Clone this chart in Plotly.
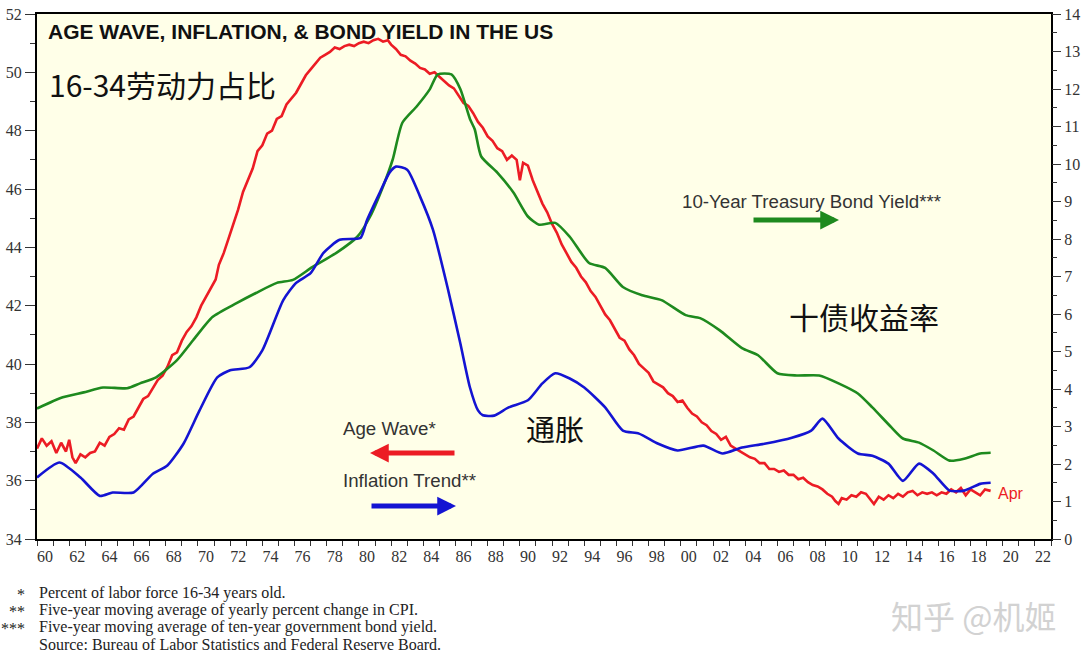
import plotly.graph_objects as go

# ---------------- data ----------------
age_years = [1960.0,1960.3,1960.6,1960.9,1961.2,1961.5,1961.8,1962.0,1962.2,1962.4,1962.7,1963.0,1963.3,1963.6,1963.9,
             1964.2,1964.5,1964.8,1965.1,1965.4,1965.7,1966.0,1966.3,1966.6,1966.9,1967.2,1967.5,1967.8,1968.1,1968.4,
             1968.7,1969.0,1969.3,1969.6,1969.9,1970.2,1970.5,1970.8,1971.1,1971.3,1971.6,1971.9,1972.2,1972.5,1972.8,
             1973.1,1973.4,1973.7,1974.0,1974.3,1974.6,1974.9,1975.2,1975.5,1975.8,1976.1,1976.4,1976.7,1977.0,1977.3,
             1977.6,1977.9,1978.2,1978.5,1978.8,1979.1,1979.4,1979.7,1980.0,1980.3,1980.6,1980.9,1981.2,1981.5,1981.8,
             1982.0,1982.3,1982.6,1982.9,1983.2,1983.5,1983.8,1984.1,1984.4,1984.7,1985.0,1985.3,1985.6,1985.9,1986.2,
             1986.5,1986.8,1987.1,1987.4,1987.7,1988.0,1988.3,1988.6,1988.9,1989.2,1989.5,1989.8,1990.0,1990.2,1990.5,
             1990.8,1991.1,1991.4,1991.7,1992.0,1992.3,1992.6,1992.9,1993.2,1993.5,1993.8,1994.1,1994.4,1994.7,1995.0,
             1995.3,1995.6,1995.9,1996.2,1996.5,1996.8,1997.1,1997.4,1997.7,1998.0,1998.3,1998.6,1998.9,1999.2,1999.5,
             1999.8,2000.1,2000.4,2000.7,2001.0,2001.3,2001.6,2001.9,2002.2,2002.5,2002.8,2003.1,2003.4,2003.7,2004.0,
             2004.3,2004.6,2004.9,2005.2,2005.5,2005.8,2006.1,2006.4,2006.7,2007.0,2007.3,2007.6,2007.9,2008.2,2008.5,
             2008.8,2009.1,2009.4,2009.6,2009.8,2010.0,2010.3,2010.6,2010.9,2011.2,2011.5,2011.8,2012.0,2012.3,2012.6,
             2012.9,2013.2,2013.5,2013.8,2014.1,2014.4,2014.7,2015.0,2015.3,2015.6,2015.9,2016.2,2016.5,2016.8,2017.1,
             2017.4,2017.7,2018.0,2018.3,2018.6,2018.9,2019.25]
age_values = [37.1,37.45,37.2,37.35,36.95,37.3,37.0,37.4,36.8,36.6,36.9,36.8,36.95,37.0,37.3,
              37.2,37.5,37.6,37.8,37.75,38.1,38.2,38.5,38.8,38.9,39.2,39.45,39.6,39.9,40.3,
              40.4,40.8,41.1,41.3,41.6,42.0,42.3,42.6,42.9,43.4,43.8,44.3,44.8,45.3,45.9,
              46.3,46.7,47.3,47.5,47.9,48.0,48.4,48.5,48.9,49.1,49.3,49.6,49.9,50.1,50.3,
              50.5,50.6,50.7,50.85,50.8,50.9,50.95,50.9,51.0,51.05,51.0,51.1,51.15,51.05,51.1,
              50.95,50.8,50.6,50.55,50.4,50.3,50.15,50.1,49.95,50.0,49.85,49.7,49.55,49.45,49.2,
              48.95,48.85,48.6,48.3,48.1,47.8,47.65,47.4,47.3,47.0,47.15,47.0,46.3,46.9,46.8,
              46.3,45.9,45.5,45.2,44.8,44.5,44.1,43.8,43.5,43.3,43.0,42.8,42.5,42.3,42.0,
              41.7,41.5,41.2,40.9,40.8,40.5,40.3,40.0,39.85,39.7,39.4,39.3,39.2,39.0,38.9,
              38.7,38.75,38.5,38.3,38.2,38.0,37.9,37.7,37.6,37.4,37.5,37.2,37.1,37.0,36.9,
              36.8,36.75,36.6,36.6,36.4,36.4,36.3,36.35,36.2,36.2,36.05,36.1,35.95,35.85,35.8,
              35.7,35.55,35.45,35.3,35.2,35.4,35.35,35.5,35.45,35.6,35.55,35.35,35.2,35.45,35.35,
              35.5,35.4,35.55,35.45,35.6,35.65,35.5,35.6,35.55,35.6,35.5,35.6,35.55,35.7,35.6,
              35.75,35.5,35.7,35.6,35.5,35.7,35.65]

bond_years = [1960.0,1961.6,1962.9,1964.1,1965.6,1966.4,1967.4,1968.7,1969.7,1970.9,1972.4,1973.6,1974.9,1975.9,
              1977.1,1978.6,1979.9,1980.7,1981.5,1982.1,1982.7,1983.6,1984.4,1984.9,1985.75,1986.3,1986.9,1987.2,
              1987.6,1988.6,1989.6,1990.5,1991.2,1992.2,1993.1,1994.3,1995.3,1996.4,1997.6,1998.8,2000.3,2001.2,
              2002.4,2003.8,2004.8,2006.0,2007.2,2008.6,2009.8,2011.0,2011.9,2013.1,2013.8,2014.8,2015.7,2016.7,
              2017.6,2018.6,2019.25]
bond_values = [3.48,3.78,3.91,4.04,4.02,4.15,4.31,4.77,5.3,5.92,6.29,6.56,6.83,6.91,
               7.25,7.63,8.06,8.6,9.4,10.12,11.1,11.54,11.99,12.39,12.39,12.0,11.2,10.92,
               10.2,9.77,9.24,8.6,8.38,8.43,8.06,7.36,7.23,6.72,6.5,6.37,5.97,5.89,
               5.57,5.09,4.9,4.42,4.36,4.36,4.15,3.88,3.51,2.97,2.68,2.57,2.36,2.09,
               2.14,2.28,2.3]

infl_years = [1960.0,1961.4,1962.7,1963.9,1964.7,1966.0,1967.2,1968.1,1969.1,1970.1,1971.2,1972.0,1973.2,1974.0,
              1975.3,1976.1,1977.0,1977.8,1978.8,1980.1,1980.5,1981.3,1981.9,1982.3,1983.0,1983.8,1984.6,1985.5,
              1986.3,1986.9,1987.4,1987.7,1988.4,1989.3,1990.5,1991.4,1992.2,1993.1,1994.0,1995.3,1996.4,1997.4,
              1998.6,1999.8,2001.4,2002.6,2003.8,2005.2,2006.9,2008.1,2008.8,2009.8,2011.0,2011.9,2012.9,2013.8,
              2014.8,2015.7,2016.7,2017.6,2018.6,2019.25]
infl_values = [1.64,2.04,1.64,1.15,1.24,1.24,1.74,1.96,2.54,3.43,4.31,4.5,4.58,5.03,
               6.37,6.83,7.09,7.63,7.98,8.03,8.5,9.24,9.77,9.93,9.85,9.13,8.25,6.72,
               5.22,4.04,3.43,3.3,3.29,3.51,3.7,4.15,4.42,4.28,4.04,3.51,2.89,2.81,
               2.54,2.36,2.49,2.28,2.44,2.54,2.7,2.89,3.21,2.68,2.28,2.22,2.01,1.55,
               2.01,1.74,1.29,1.29,1.47,1.5]

x_tick_years = list(range(1960, 2024))
x_label_pos = [y + 0.5 for y in range(1960, 2023, 2)]
x_labels = ["60","62","64","66","68","70","72","74","76","78","80","82","84","86","88","90",
            "92","94","96","98","00","02","04","06","08","10","12","14","16","18","20","22"]

footnotes = [("*", "Percent of labor force 16-34 years old."),
             ("**", "Five-year moving average of yearly percent change in CPI."),
             ("***", "Five-year moving average of ten-year government bond yield."),
             ("", "Source: Bureau of Labor Statistics and Federal Reserve Board.")]

# ---------------- styles ----------------
RED = "#ec1c24"
BLUE = "#1414d2"
GREEN = "#1e8a1e"
BG = "#ffffe8"
SERIF = "Liberation Serif, Times New Roman, serif"
SANS = "Liberation Sans, Arial, sans-serif"
CJK = "Noto Sans CJK SC, sans-serif"

W, H = 1089, 660
L, R, T, B = 37, 38, 14, 121
PW, PH = W - L - R, H - T - B


def px(x):
    return (x - L) / PW


def py(y):
    return (H - B - y) / PH


fig = go.Figure()
fig.add_trace(go.Scatter(x=bond_years, y=bond_values, yaxis="y2", mode="lines",
                         line=dict(color=GREEN, width=2.6, shape="spline", smoothing=0.6),
                         name="10-Year Treasury Bond Yield", hoverinfo="skip"))
fig.add_trace(go.Scatter(x=infl_years, y=infl_values, yaxis="y2", mode="lines",
                         line=dict(color=BLUE, width=2.6, shape="spline", smoothing=0.6),
                         name="Inflation Trend", hoverinfo="skip"))
fig.add_trace(go.Scatter(x=age_years, y=age_values, mode="lines",
                         line=dict(color=RED, width=2.6),
                         name="Age Wave", hoverinfo="skip"))
# invisible helper trace so the label axis is drawn
fig.add_trace(go.Scatter(x=[1960], y=[34], xaxis="x2", mode="markers",
                         marker=dict(opacity=0), hoverinfo="skip", showlegend=False))

tickfont = dict(family=SERIF, size=16, color="#333333")

fig.update_layout(
    width=W, height=H,
    margin=dict(l=L, r=R, t=T, b=B, autoexpand=False),
    paper_bgcolor="white", plot_bgcolor=BG,
    showlegend=False,
    xaxis=dict(range=[1960, 2023], tickmode="array", tickvals=x_tick_years,
               ticks="outside", ticklen=5, tickwidth=1, tickcolor="#333333",
               showticklabels=False, showgrid=False, zeroline=False, automargin=False,
               showline=True, mirror=True, linewidth=2, linecolor="black"),
    xaxis2=dict(range=[1960, 2023], overlaying="x", anchor="y", side="bottom",
                tickmode="array", tickvals=x_label_pos, ticktext=x_labels,
                ticks="", showgrid=False, zeroline=False, showline=False, automargin=False,
                tickfont=tickfont, ticklabelstandoff=6),
    yaxis=dict(range=[34, 52], tickmode="linear", tick0=34, dtick=2,
               ticks="outside", ticklen=10, tickwidth=1, tickcolor="#333333",
               minor=dict(dtick=1, ticks="outside", ticklen=5, tickcolor="#333333"),
               tickfont=tickfont, showgrid=False, zeroline=False, automargin=False,
               showline=True, mirror=True, linewidth=2, linecolor="black"),
    yaxis2=dict(range=[0, 14], overlaying="y", side="right", tickmode="linear", tick0=0, dtick=1,
                ticks="outside", ticklen=9, tickwidth=1, tickcolor="#333333",
                minor=dict(dtick=0.5, ticks="outside", ticklen=5, tickcolor="#333333"),
                tickfont=tickfont, showgrid=False, zeroline=False, showline=False, automargin=False),
)

ann = []
# title and Chinese labels
ann.append(dict(text="<b>AGE WAVE, INFLATION, & BOND YIELD IN THE US</b>", x=px(46), y=py(31),
                xanchor="left", yanchor="middle", font=dict(family=SANS, size=21, color="#111111")))
ann.append(dict(text="16-34劳动力占比", x=px(47), y=py(84), xanchor="left", yanchor="middle",
                font=dict(family=CJK, size=30, color="#111111")))
ann.append(dict(text="通胀", x=px(524), y=py(428), xanchor="left", yanchor="middle",
                font=dict(family=CJK, size=29, color="#111111")))
ann.append(dict(text="十债收益率", x=px(787), y=py(316), xanchor="left", yanchor="middle",
                font=dict(family=CJK, size=30, color="#111111")))
# legend texts
ann.append(dict(text="Age Wave*", x=px(341), y=py(428), xanchor="left", yanchor="middle",
                font=dict(family=SANS, size=18.7, color="#333333")))
ann.append(dict(text="Inflation Trend**", x=px(341), y=py(480), xanchor="left", yanchor="middle",
                font=dict(family=SANS, size=18.7, color="#333333")))
ann.append(dict(text="10-Year Treasury Bond Yield***", x=px(680), y=py(201), xanchor="left", yanchor="middle",
                font=dict(family=SANS, size=18.7, color="#333333")))
ann.append(dict(text="Apr", x=px(996), y=py(493), xanchor="left", yanchor="middle",
                font=dict(family=SANS, size=16, color=RED)))
# legend arrows
for (hx, hy, dx, col) in [(370, 453, 86, RED), (456, 506, -86, BLUE), (839, 220, -87, GREEN)]:
    ann.append(dict(text="", x=px(hx), y=py(hy), ax=dx, ay=0, showarrow=True,
                    arrowhead=2, arrowsize=0.75, arrowwidth=5, arrowcolor=col))
# footnotes
for i, (star, txt) in enumerate(footnotes):
    yy = 593 + i * 17
    if star:
        ann.append(dict(text=star, x=px(27), y=py(yy + 1), xanchor="right", yanchor="middle",
                        font=dict(family=SERIF, size=16, color="#222222")))
    ann.append(dict(text=txt, x=px(37), y=py(yy), xanchor="left", yanchor="middle",
                    font=dict(family=SERIF, size=16, color="#222222")))
# watermark
ann.append(dict(text="知乎 @机姬", x=px(889), y=py(615), xanchor="left", yanchor="middle",
                font=dict(family=CJK, size=32, color="#d2d2d2")))

for a in ann:
    a.setdefault("showarrow", False)
    a["xref"] = "paper"
    a["yref"] = "paper"
fig.update_layout(annotations=ann)

# remove the default page margin so the 1089x660 figure fills the window exactly
fig.write_html("out.html",
               config={"displayModeBar": False, "staticPlot": True},
               post_script="document.body.style.margin='0';document.body.style.overflow='hidden';")
